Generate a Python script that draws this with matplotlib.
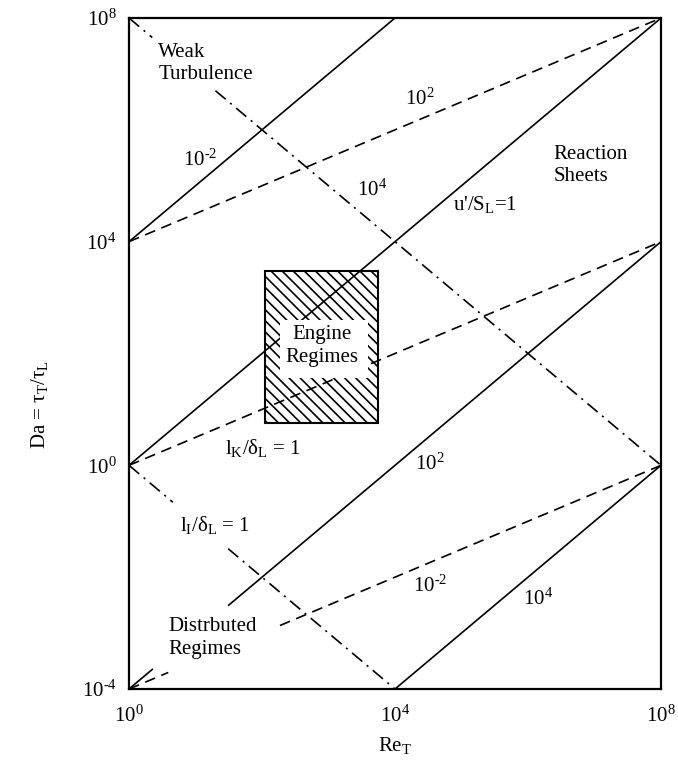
import numpy as np
import matplotlib.pyplot as plt
from matplotlib.patches import Rectangle
from matplotlib.ticker import NullLocator

plt.rcParams['font.family'] = 'Liberation Serif'
plt.rcParams['mathtext.fontset'] = 'custom'
plt.rcParams['mathtext.rm'] = 'Liberation Serif'
plt.rcParams['mathtext.it'] = 'Liberation Serif:italic'
plt.rcParams['hatch.linewidth'] = 1.2

# line segments as (log10 Re_T) / (log10 Da) end points
# u'/S_L = const  (solid)
solid_re = [(0, 4), (0, 8), (0, 0.36), (1.49, 8), (4, 8)]
solid_da = [(4, 8), (0, 8), (-4, -3.64), (-2.51, 4), (-4, 0)]
# l_K/delta_L = const  (dashed)
dashed_re = [(0, 8), (0, 8), (0, 0.59), (2.27, 8)]
dashed_da = [(4, 8), (0, 4), (-4, -3.705), (-2.865, 0)]
# l_I/delta_L = const  (dash-dot)
dashdot_re = [(0, 0.35), (1.3, 8), (0, 0.66), (1.49, 4)]
dashdot_da = [(8, 7.65), (6.7, 0), (0, -0.66), (-1.49, -4)]

# engine operating window and the blank patch behind its label
engine_re = (2.05, 3.75)
engine_da = (0.75, 3.47)
label_box_re = (2.27, 3.59)
label_box_da = (1.56, 2.60)

xticks = [0, 4, 8]
yticks = [-4, 0, 4, 8]

# text, log10 Re, log10 Da, horizontal alignment
labels = [
    ("Weak\nTurbulence", 0.44, 7.19, 'left'),
    ("$10^{‐2}$", 1.07, 5.46, 'center'),
    ("$10^{2}$", 4.38, 6.55, 'center'),
    ("$10^{4}$", 3.65, 4.92, 'center'),
    ("u'/S$_\\mathrm{L}$=1", 5.35, 4.66, 'center'),
    ("Reaction\nSheets", 6.38, 5.36, 'left'),
    ("Engine\nRegimes", 2.90, 2.13, 'center'),
    ("l$_\\mathrm{K}$/δ$_\\mathrm{L}$ = 1", 1.44, 0.31, 'left'),
    ("$10^{2}$", 4.53, 0.02, 'center'),
    ("l$_\\mathrm{I}$/δ$_\\mathrm{L}$ = 1", 0.77, -1.07, 'left'),
    ("$10^{‐2}$", 4.53, -2.17, 'center'),
    ("$10^{4}$", 6.15, -2.39, 'center'),
    ("Distrbuted\nRegimes", 0.59, -3.09, 'left'),
]


def power_label(e):
    # hyphen rather than a long minus in the exponent
    return "$10^{%s}$" % str(e).replace('-', '‐')


fig = plt.figure(figsize=(6.78, 7.72), dpi=100)
ax = fig.add_axes([129 / 678, 1 - 689 / 772, 532 / 678, 671 / 772])
ax.set_xscale('log')
ax.set_yscale('log')
ax.set_xlim(1, 1e8)
ax.set_ylim(1e-4, 1e8)

lw = 1.2
for re, da in zip(solid_re, solid_da):
    ax.plot(10.0 ** np.array(re), 10.0 ** np.array(da), color='black', lw=lw,
            solid_capstyle='butt', zorder=2)
for re, da in zip(dashed_re, dashed_da):
    ax.plot(10.0 ** np.array(re), 10.0 ** np.array(da), color='black', lw=lw,
            linestyle=(0, (6.5, 4)), zorder=2)
for re, da in zip(dashdot_re, dashdot_da):
    ax.plot(10.0 ** np.array(re), 10.0 ** np.array(da), color='black', lw=lw,
            linestyle=(0, (8, 3.5, 1.2, 3.5)), zorder=2)

x0, x1 = 10.0 ** np.array(engine_re)
y0, y1 = 10.0 ** np.array(engine_da)
ax.add_patch(Rectangle((x0, y0), x1 - x0, y1 - y0, facecolor='none',
                       edgecolor='black', hatch='\\\\\\', lw=1.5, zorder=1))
bx0, bx1 = 10.0 ** np.array(label_box_re)
by0, by1 = 10.0 ** np.array(label_box_da)
ax.add_patch(Rectangle((bx0, by0), bx1 - bx0, by1 - by0, facecolor='white',
                       edgecolor='none', zorder=3))

for txt, lx, ly, ha in labels:
    ax.text(10.0 ** lx, 10.0 ** ly, txt, ha=ha, va='center', fontsize=15,
            linespacing=1.25, zorder=4)

ax.set_xticks([10.0 ** t for t in xticks], [power_label(t) for t in xticks])
ax.set_yticks([10.0 ** t for t in yticks], [power_label(t) for t in yticks])
ax.xaxis.set_minor_locator(NullLocator())
ax.yaxis.set_minor_locator(NullLocator())
ax.tick_params(axis='both', length=0, labelsize=15)
ax.tick_params(axis='x', pad=12)
ax.tick_params(axis='y', pad=9)
for sp in ax.spines.values():
    sp.set_linewidth(1.6)
    sp.set_zorder(5)

fig.text(395 / 678, 1 - 745 / 772, "Re$_\\mathrm{T}$", ha='center', va='center',
         fontsize=15)
fig.text(40 / 678, 1 - 405 / 772, "Da = τ$_\\mathrm{T}$/τ$_\\mathrm{L}$",
         ha='center', va='center', rotation=90, fontsize=15)

fig.savefig('out.png', dpi=100)
